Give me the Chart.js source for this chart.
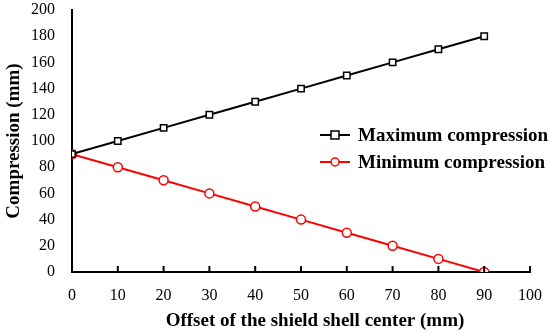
<!DOCTYPE html>
<html>
<head>
<meta charset="utf-8">
<script src="https://cdn.jsdelivr.net/npm/chart.js@4"></script>
<style>
  html, body { margin: 0; padding: 0; background: #fff; }
  #wrap { width: 550px; height: 333px; }
</style>
</head>
<body>
<div id="wrap"><canvas id="lineChart"></canvas></div>
<script>
// chart data
const offsets = [0, 10, 20, 30, 40, 50, 60, 70, 80, 90];
const maxCompression = [90, 100, 110, 120, 130, 140, 150, 160, 170, 180];
const minCompression = [90, 80, 70, 60, 50, 40, 30, 20, 10, 0];
const seriesNames = ["Maximum compression", "Minimum compression"];
const xTitle = "Offset of the shield shell center (mm)";

const serif = "'Liberation Serif', 'Times New Roman', serif";

// inward tick marks on the x axis, x title, legend with line and marker
const extras = {
  id: "extras",
  afterDraw(chart) {
    const ctx = chart.ctx;
    const x = chart.scales.x;
    const y = chart.scales.y;
    const y0 = y.getPixelForValue(0);
    ctx.save();
    ctx.strokeStyle = "#000";
    ctx.lineWidth = 2;
    x.ticks.forEach((t) => {
      const px = x.getPixelForValue(t.value);
      ctx.beginPath();
      ctx.moveTo(px, y0);
      ctx.lineTo(px, y0 - 6);
      ctx.stroke();
    });

    ctx.fillStyle = "#000";
    ctx.font = "bold 19px " + serif;
    ctx.textAlign = "center";
    ctx.textBaseline = "middle";
    ctx.fillText(xTitle, 315, 321);

    // legend
    const items = [
      { color: "#000", style: "rect", y: 135 },
      { color: "#ff0000", style: "circle", y: 162 },
    ];
    items.forEach((it, i) => {
      ctx.strokeStyle = it.color;
      ctx.lineWidth = 2;
      ctx.beginPath();
      ctx.moveTo(320, it.y);
      ctx.lineTo(350, it.y);
      ctx.stroke();
      ctx.fillStyle = "#fff";
      ctx.lineWidth = 1.5;
      ctx.beginPath();
      if (it.style === "rect") {
        ctx.rect(331, it.y - 4, 8, 8);
      } else {
        ctx.arc(335, it.y, 4, 0, Math.PI * 2);
      }
      ctx.fill();
      ctx.stroke();
      ctx.fillStyle = "#000";
      ctx.textAlign = "left";
      ctx.fillText(seriesNames[i], 358, it.y + 1);
    });
    ctx.restore();
  },
};

const ctx = document.getElementById("lineChart").getContext("2d");
new Chart(ctx, {
  type: "line",
  data: {
    datasets: [
      {
        label: seriesNames[0],
        data: offsets.map((o, i) => ({ x: o, y: maxCompression[i] })),
        borderColor: "#000",
        borderWidth: 2,
        pointStyle: "rect",
        pointRadius: 4.5,
        pointBorderWidth: 1.5,
        pointBackgroundColor: "#fff",
        pointBorderColor: "#000",
      },
      {
        label: seriesNames[1],
        data: offsets.map((o, i) => ({ x: o, y: minCompression[i] })),
        borderColor: "#ff0000",
        borderWidth: 2,
        pointStyle: "circle",
        pointRadius: 4.5,
        pointBorderWidth: 1.5,
        pointBackgroundColor: "#fff",
        pointBorderColor: "#ff0000",
      },
    ],
  },
  options: {
    responsive: true,
    maintainAspectRatio: false,
    animation: false,
    layout: { padding: { top: 10, right: 20, left: 0, bottom: 0 } },
    plugins: {
      legend: { display: false },
      tooltip: { enabled: false },
    },
    scales: {
      x: {
        type: "linear",
        min: 0,
        max: 100,
        ticks: {
          stepSize: 10,
          color: "#000",
          padding: 6,
          font: { family: serif, size: 16 },
        },
        grid: { display: false },
        border: { color: "#000", width: 2 },
        afterFit: (s) => {
          s.height = 61;
          s.paddingLeft = 0;
          s.paddingRight = 0;
        },
      },
      y: {
        min: 0,
        max: 200,
        ticks: {
          stepSize: 20,
          color: "#000",
          padding: 9,
          font: { family: serif, size: 16 },
        },
        grid: { display: false },
        border: { color: "#000", width: 2 },
        title: {
          display: true,
          text: "Compression (mm)",
          color: "#000",
          font: { family: serif, size: 19, weight: "bold" },
          padding: { top: 3, bottom: 4 },
        },
        afterFit: (s) => {
          s.width = 72;
          s.paddingTop = 0;
          s.paddingBottom = 0;
        },
      },
    },
  },
  plugins: [extras],
});
</script>
</body>
</html>
